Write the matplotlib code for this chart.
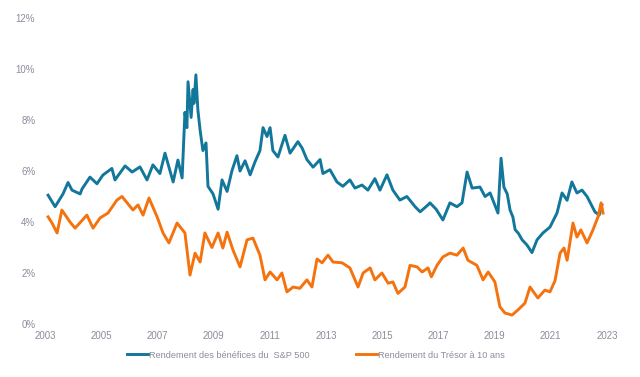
import matplotlib
matplotlib.use("Agg")
import matplotlib.pyplot as plt
from matplotlib.ticker import FuncFormatter

plt.rcParams["font.family"] = ["Liberation Sans", "DejaVu Sans"]

# ── Data (decimal year, %) ────────────────────────────────────────────────────

SP_YEARS = [
    2003.11, 2003.36, 2003.64, 2003.82, 2003.96, 2004.25, 2004.32, 2004.60, 2004.85,
    2005.06, 2005.38, 2005.49, 2005.85, 2006.10, 2006.38, 2006.63, 2006.84, 2007.09,
    2007.27, 2007.56, 2007.73, 2007.88, 2007.98, 2008.05, 2008.09, 2008.20, 2008.27,
    2008.30, 2008.37, 2008.44, 2008.52, 2008.62, 2008.73, 2008.80, 2008.98, 2009.16,
    2009.30, 2009.48, 2009.65, 2009.83, 2009.94, 2010.12, 2010.30, 2010.47, 2010.65,
    2010.76, 2010.90, 2011.01, 2011.11, 2011.29, 2011.54, 2011.72, 2012.00, 2012.15,
    2012.32, 2012.54, 2012.79, 2012.89, 2013.14, 2013.39, 2013.60, 2013.85, 2014.03,
    2014.28, 2014.49, 2014.74, 2014.92, 2015.17, 2015.38, 2015.63, 2015.88, 2016.17,
    2016.35, 2016.63, 2016.70, 2016.92, 2017.16, 2017.41, 2017.66, 2017.84, 2018.02,
    2018.20, 2018.48, 2018.66, 2018.84, 2019.12, 2019.23, 2019.33, 2019.45, 2019.55,
    2019.65, 2019.73, 2019.85, 2019.98, 2020.15, 2020.33, 2020.51, 2020.72, 2020.97,
    2021.22, 2021.40, 2021.58, 2021.75, 2021.93, 2022.11, 2022.29, 2022.57, 2022.72,
    2022.82,
]
SP_YIELD = [
    5.05, 4.60, 5.10, 5.55, 5.25, 5.10, 5.30, 5.76, 5.50,
    5.84, 6.10, 5.65, 6.20, 5.96, 6.16, 5.65, 6.24, 5.90,
    6.70, 5.57, 6.43, 5.73, 8.30, 7.70, 9.50, 8.10, 9.20,
    8.65, 9.77, 8.40, 7.60, 6.80, 7.10, 5.40, 5.10, 4.50,
    5.65, 5.20, 6.00, 6.60, 6.00, 6.40, 5.85, 6.35, 6.80,
    7.70, 7.35, 7.70, 6.80, 6.55, 7.40, 6.70, 7.15, 6.90,
    6.45, 6.15, 6.45, 5.90, 6.05, 5.57, 5.40, 5.65, 5.33,
    5.45, 5.25, 5.70, 5.25, 5.85, 5.25, 4.86, 5.00, 4.60,
    4.40, 4.67, 4.75, 4.50, 4.08, 4.75, 4.60, 4.75, 5.96,
    5.33, 5.37, 5.00, 5.14, 4.35, 6.50, 5.37, 5.10, 4.47,
    4.20, 3.70, 3.55, 3.30, 3.10, 2.80, 3.30, 3.57, 3.80,
    4.35, 5.14, 4.85, 5.57, 5.14, 5.25, 5.00, 4.40, 4.27,
    4.67,
]

UST_YEARS = [
    2003.11, 2003.25, 2003.43, 2003.60, 2003.89, 2004.07, 2004.49, 2004.71, 2004.96,
    2005.24, 2005.56, 2005.74, 2006.13, 2006.31, 2006.49, 2006.70, 2006.99, 2007.20,
    2007.41, 2007.70, 2007.98, 2008.16, 2008.34, 2008.52, 2008.69, 2008.94, 2009.16,
    2009.33, 2009.48, 2009.69, 2009.94, 2010.19, 2010.40, 2010.65, 2010.83, 2011.01,
    2011.26, 2011.43, 2011.61, 2011.83, 2012.07, 2012.32, 2012.50, 2012.68, 2012.86,
    2013.07, 2013.25, 2013.57, 2013.85, 2014.14, 2014.32, 2014.57, 2014.74, 2014.99,
    2015.21, 2015.38, 2015.56, 2015.81, 2015.99, 2016.24, 2016.42, 2016.63, 2016.75,
    2016.95, 2017.16, 2017.41, 2017.66, 2017.88, 2018.05, 2018.37, 2018.59, 2018.77,
    2019.01, 2019.19, 2019.37, 2019.62, 2019.83, 2020.08, 2020.26, 2020.54, 2020.79,
    2020.97, 2021.15, 2021.33, 2021.47, 2021.58, 2021.79, 2021.93, 2022.07, 2022.29,
    2022.50, 2022.68, 2022.79, 2022.86,
]
UST_YIELD = [
    4.20, 3.96, 3.57, 4.47, 4.00, 3.76, 4.27, 3.76, 4.16,
    4.35, 4.86, 5.00, 4.47, 4.67, 4.27, 4.94, 4.20, 3.57,
    3.18, 3.96, 3.57, 1.92, 2.78, 2.43, 3.57, 3.00, 3.57,
    2.98, 3.60, 2.90, 2.24, 3.30, 3.37, 2.70, 1.73, 2.04,
    1.73, 2.00, 1.26, 1.45, 1.40, 1.73, 1.45, 2.55, 2.40,
    2.70, 2.43, 2.40, 2.20, 1.45, 2.00, 2.20, 1.73, 2.00,
    1.60, 1.65, 1.20, 1.45, 2.30, 2.24, 2.04, 2.20, 1.85,
    2.30, 2.63, 2.78, 2.70, 2.98, 2.50, 2.30, 1.73, 2.04,
    1.65, 0.67, 0.43, 0.35, 0.55, 0.82, 1.45, 1.02, 1.33,
    1.26, 1.70, 2.78, 2.98, 2.50, 3.96, 3.41, 3.69, 3.18,
    3.69, 4.20, 4.75, 4.35,
]

X_TICKS = list(range(2003, 2024, 2))
Y_TICKS = [0, 2, 4, 6, 8, 10, 12]

SP_LABEL = "Rendement des bénéfices du  S&P 500"
UST_LABEL = "Rendement du Trésor à 10 ans"

BLUE = "#12779b"
ORANGE = "#f5730f"
GREY = "#8a8d9c"


def main():
    fig = plt.figure(figsize=(6.4, 3.77), dpi=100)
    ax = fig.add_axes([45 / 640, 53 / 377, 562 / 640, 306 / 377])

    ax.plot(SP_YEARS, SP_YIELD, color=BLUE, linewidth=2.1, label=SP_LABEL)
    ax.plot(UST_YEARS, UST_YIELD, color=ORANGE, linewidth=2.1, label=UST_LABEL)

    ax.set_xlim(2003, 2023)
    ax.set_ylim(0, 12)
    ax.set_xticks(X_TICKS)
    ax.set_yticks(Y_TICKS)
    ax.yaxis.set_major_formatter(FuncFormatter(lambda v, _: f"{v:.0f}%"))
    ax.tick_params(axis="both", length=0, labelsize=7, labelcolor=GREY)
    ax.tick_params(axis="y", pad=7)
    ax.tick_params(axis="x", pad=5)
    for s in ax.spines.values():
        s.set_visible(False)

    fig.legend(loc="center", bbox_to_anchor=(316 / 640, 1 - 355 / 377), ncol=2,
               frameon=False, fontsize=6.6, labelcolor=GREY, handlelength=2.3,
               handletextpad=0.15, columnspacing=5.0)

    fig.savefig("out.png", dpi=100)
    plt.close(fig)


if __name__ == "__main__":
    main()
